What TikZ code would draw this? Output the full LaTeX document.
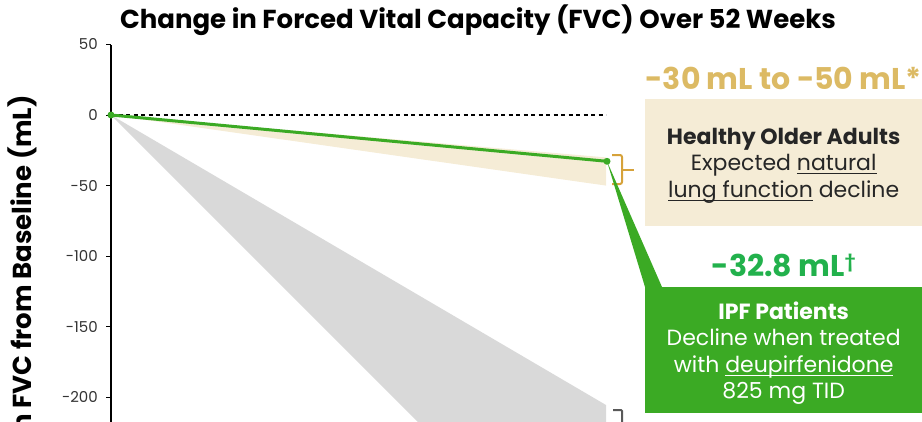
\documentclass[tikz,border=0pt]{standalone}
\usepackage{fontspec}
\setmainfont{Poppins}
\usetikzlibrary{arrows.meta,positioning}
\definecolor{fvcgreen}{HTML}{3BAA24}
\definecolor{valgreen}{HTML}{22B14C}
\definecolor{gold}{HTML}{DCBA64}
\definecolor{bracegold}{HTML}{D6A23A}
\definecolor{beige}{HTML}{F5ECD6}
\definecolor{bandgray}{HTML}{D9D9D9}
\definecolor{inkgray}{HTML}{333333}
\newcommand\undl[1]{\setbox0\hbox{#1}\rlap{\rule[-3.5pt]{\wd0}{1.1pt}}\box0\relax}

\begin{document}
\begin{tikzpicture}[x=1pt,y=-1pt,
  ticklab/.style={anchor=east,inner sep=0pt,font=\fontsize{15}{15}\selectfont,text=inkgray},
  infobox/.style={minimum width=277pt,minimum height=127pt,inner sep=0pt,align=center,anchor=north west,text depth=0pt,font=\fontsize{22}{26.5}\selectfont},
  value/.style={font=\bfseries\fontsize{30}{30}\selectfont,inner sep=0pt}]
\useasboundingbox (0,0) rectangle (922,421);
\clip (0,0) rectangle (922,421);
\coordinate (origin) at (111,115);
\coordinate (wk52) at (607,161.3);
% ranges at week 52
\fill[bandgray] (origin) -- (606,405) -- (606,610) -- cycle;
\fill[beige] (origin) -- (606,157.4) -- (606,185.6) -- cycle;
% axis
\node[font=\bfseries\fontsize{26}{26}\selectfont] (title) at (478,20) {Change in Forced Vital Capacity (FVC) Over 52 Weeks};
\node[rotate=90,anchor=east,inner sep=0pt,font=\bfseries\fontsize{26}{26}\selectfont] (ylab) at (23,95) {Change in FVC from Baseline (mL)};
\draw[line width=1.2pt] (111,45) -- (111,425);
\foreach \v in {50,0,-50,-100,-150,-200}{
  \draw[line width=1pt] (106,{115-1.412*\v}) -- (111,{115-1.412*\v});
  \node[ticklab] (lab\v) at (98,{115-1.412*\v}) {\v};
}
\draw[dash pattern=on 4pt off 3.5pt,line width=1.1pt] (origin) -- (606,115);
\draw[fvcgreen,line width=3pt] (origin) -- (wk52);
\fill[fvcgreen] (origin) circle (3.5pt) (wk52) circle (3.5pt);
% brackets
\draw[bracegold,line width=2pt,rounded corners=2pt] (612,155) -- (622,155) -- (622,184) -- (612,184);
\draw[bracegold,line width=2pt] (622,170) -- (634,170);
\draw[black!65,line width=2pt,rounded corners=1pt] (613,410) -- (622,410) -- (622,425);
% callouts
\node[infobox,fill=beige,text=black!85] (healthy) at (645,99) {\textbf{Healthy Older Adults}\\Expected \undl{natural}\\\undl{lung function} decline};
\node[value,text=gold,above=9pt of healthy] (range) {-30 mL to -50 mL*};
\node[infobox,fill=fvcgreen,text=white,minimum height=126pt] (ipf) at (645,287) {\textbf{IPF Patients}\\Decline when treated\\with \undl{deupirfenidone}\\825 mg TID};
\fill[fvcgreen] (wk52) -- (ipf.north west) -- ([xshift=17pt]ipf.north west) -- cycle;
\node[value,text=valgreen,above=10pt of ipf] (ipfval) {-32.8 mL\raisebox{9pt}{\fontsize{17}{17}\selectfont †}};
\end{tikzpicture}
\end{document}
